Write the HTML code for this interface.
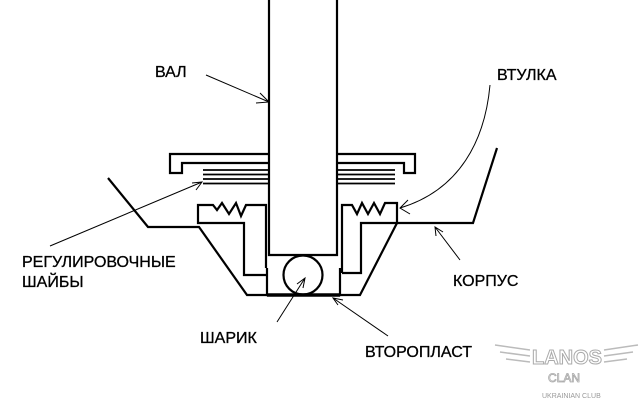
<!DOCTYPE html>
<html><head><meta charset="utf-8"><style>
html,body{margin:0;padding:0;background:#fff;}
svg{display:block}
text{font-family:"Liberation Sans",sans-serif;font-size:16px;fill:#000;stroke:#000;stroke-width:0.3;}
</style></head><body>
<svg width="640" height="400" viewBox="0 0 640 400" xmlns="http://www.w3.org/2000/svg">
<g fill="none" stroke="#000" stroke-width="2.2" stroke-linejoin="miter">
<path d="M269 0 V255 H337 V0"/>
<path d="M269 154 H170 V173 H182 V163 H269 M337 154 H415 V173 H404 V163 H337"/>
<path d="M203 170 H269 M203 174.5 H269 M203 179 H269 M203 183.5 H269 M337 170 H395 M337 174.5 H395 M337 179 H395 M337 183.5 H395" stroke-width="1.8"/>
<path d="M266 268 V205 H246 L241 216 L236 203 L229 214 L222 203 L217 210 L213 205 H198 V223 H244 V275 H267"/>
<path d="M342 273 V205 H352 L357 214 L362 203 L368 214 L374 203 L380 214 L385 203 H397 V223 H361 V273 H342"/>
<path d="M267 268 V295 H340 V268"/>
<path d="M267 295 H340" stroke-width="3.5"/>
<circle cx="303" cy="275" r="19.5"/>
<path d="M108 178 L148 227 H199 L247 295 H360 L397 223 H473 L497 148"/>
</g>
<g fill="none" stroke="#000" stroke-width="1">
<path d="M206 75 L269 102 M260 93 L269 102 L256 103"/>
<path d="M490 85 C485 140 460 190 400 208 M408 200 L400 208 L410 214"/>
<path d="M50 246 L202 182 M192 183 L202 182 L196 190"/>
<path d="M460 260 L435 227 M436 236 L435 227 L443 232"/>
<path d="M277 322 L305 278 M297 284 L305 278 L303 288"/>
<path d="M388 336 L333 298 M338 305 L333 298 L343 300"/>
</g>
<text x="155" y="77">ВАЛ</text>
<text x="497" y="80">ВТУЛКА</text>
<text x="22" y="267">РЕГУЛИРОВОЧНЫЕ</text>
<text x="22" y="287">ШАЙБЫ</text>
<text x="453" y="286">КОРПУС</text>
<text x="200" y="343">ШАРИК</text>
<text x="365" y="357">ВТОРОПЛАСТ</text>
<g fill="none" stroke="#bbb" stroke-width="1.5">
<text x="532" y="364" style="font-size:20px;font-weight:bold;fill:#fff;stroke:#aaa;stroke-width:1">LANOS</text>
<text x="548" y="382" style="font-size:12px;fill:#fff;stroke:#aaa;stroke-width:0.8">CLAN</text>
<text x="542" y="398" style="font-size:7px;fill:#999;stroke:none">UKRAINIAN CLUB</text>
<path d="M495 345 L530 350 M500 352 L530 356 M506 359 L530 362 M638 345 L604 350 M633 352 L604 356 M627 359 L604 362"/>
</g>
</svg>
</body></html>
